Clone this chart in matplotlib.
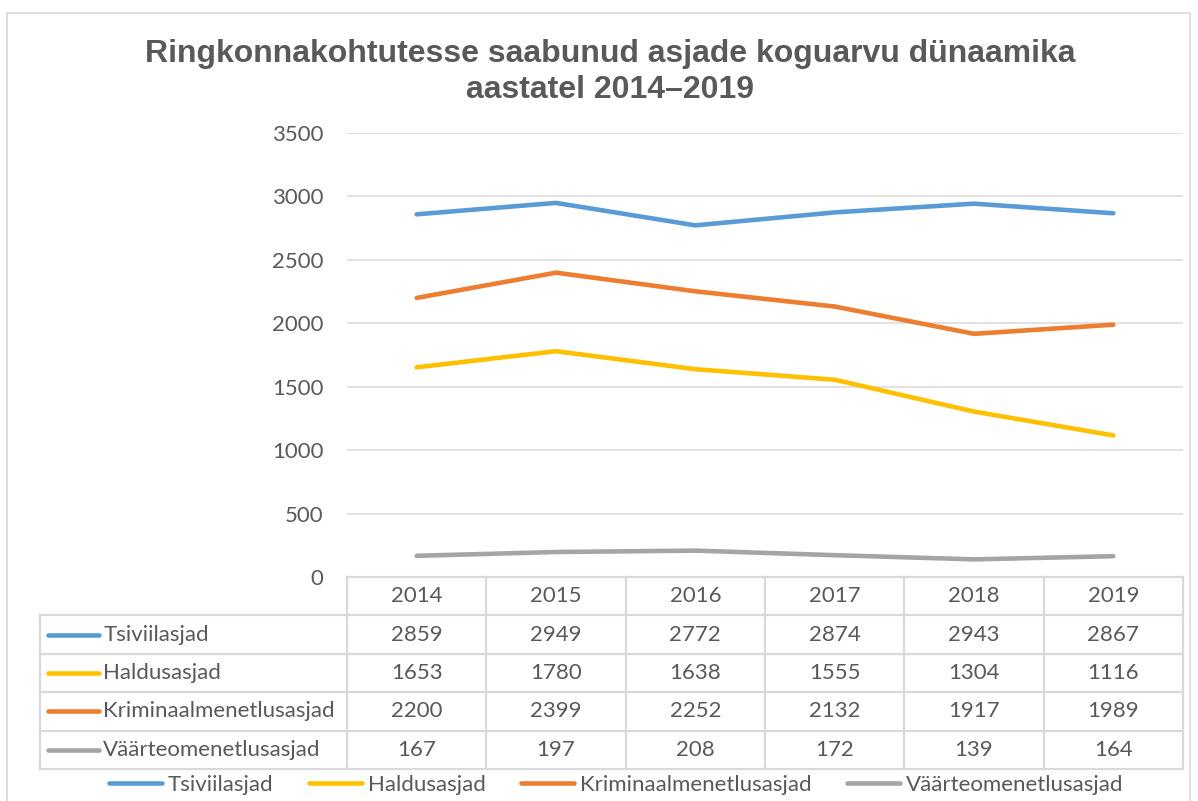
import matplotlib.pyplot as plt
from matplotlib.lines import Line2D
from matplotlib.patches import Rectangle

years = ["2014", "2015", "2016", "2017", "2018", "2019"]
series_names = ["Tsiviilasjad", "Haldusasjad", "Kriminaalmenetlusasjad", "Väärteomenetlusasjad"]
tsiviil = [2859, 2949, 2772, 2874, 2943, 2867]
haldus = [1653, 1780, 1638, 1555, 1304, 1116]
kriminaal = [2200, 2399, 2252, 2132, 1917, 1989]
vaarteo = [167, 197, 208, 172, 139, 164]
colors = ["#5B9BD5", "#FFC000", "#ED7D31", "#A5A5A5"]
title = "Ringkonnakohtutesse saabunud asjade koguarvu dünaamika\naastatel 2014\u20132019"

W, H = 1198, 801
TEXT = "#595959"
GRID = "#D9D9D9"
FS = 16
plt.rcParams["font.family"] = ["Lato", "DejaVu Sans"]


def fx(px):
    return px / W


def fy(py):
    return 1 - py / H


fig = plt.figure(figsize=(W / 100, H / 100), dpi=100)

# outer chart border (bottom runs off the picture)
fig.patches.append(Rectangle((fx(7), -0.02), fx(1190) - fx(7), fy(13) + 0.02,
                             transform=fig.transFigure, fill=False,
                             edgecolor=GRID, linewidth=1.2))

fig.text(fx(610), fy(72), title, ha="center", va="center", fontsize=23,
         fontweight="bold", color=TEXT, family=["Liberation Sans", "DejaVu Sans"],
         linespacing=1.3)

# plot area
x0, x1, ytop, ybot = 347, 1183, 133, 577
ax = fig.add_axes([fx(x0), fy(ybot), fx(x1) - fx(x0), (ybot - ytop) / H])
xs = list(range(len(years)))
all_series = [tsiviil, haldus, kriminaal, vaarteo]
for name, vals, c in zip(series_names, all_series, colors):
    ax.plot(xs, vals, color=c, linewidth=3.3, solid_capstyle="round", label=name, zorder=3)
ax.set_xlim(-0.5, len(years) - 0.5)
ax.set_ylim(0, 3500)
ax.set_yticks(range(0, 3501, 500))
ax.set_xticks([])
ax.tick_params(axis="y", length=0, pad=17, labelsize=FS, labelcolor=TEXT)
for s in ax.spines.values():
    s.set_visible(False)
ax.grid(axis="y", color=GRID, linewidth=1.1)
ax.set_axisbelow(True)

# data table under the plot
tbl_left, tbl_bot = 40, 769
col_w = (x1 - x0) / len(years)
lab_w = (x0 - tbl_left) / col_w
n_rows = len(series_names) + 1
tax = fig.add_axes([fx(tbl_left), fy(tbl_bot), fx(x1) - fx(tbl_left), (tbl_bot - ybot) / H])
tax.set_xlim(-0.5 - lab_w, len(years) - 0.5)
tax.set_ylim(n_rows, 0)
tax.axis("off")
lk = dict(color=GRID, linewidth=1.6, clip_on=False)
# horizontal rules
tax.plot([-0.5, len(years) - 0.5], [0, 0], **lk)
for r in range(1, n_rows + 1):
    tax.plot([-0.5 - lab_w, len(years) - 0.5], [r, r], **lk)
# vertical rules
for c in range(len(years) + 1):
    tax.plot([c - 0.5, c - 0.5], [0, n_rows], **lk)
tax.plot([-0.5 - lab_w, -0.5 - lab_w], [1, n_rows], **lk)

for j, yr in enumerate(years):
    tax.text(j, 0.5, yr, ha="center", va="center", fontsize=FS, color=TEXT)
for i, (name, vals, c) in enumerate(zip(series_names, all_series, colors)):
    r = i + 1.5
    tax.plot([-0.5 - lab_w + 0.06, -0.5 - lab_w + 0.42], [r, r], color=c,
             linewidth=3.3, solid_capstyle="round", clip_on=False)
    tax.text(-0.5 - lab_w + 0.455, r, name, ha="left", va="center",
             fontsize=FS, color=TEXT)
    for j, v in enumerate(vals):
        tax.text(j, r, str(v), ha="center", va="center", fontsize=FS, color=TEXT)

# bottom legend
handles = [Line2D([0], [0], color=c, linewidth=3.3, solid_capstyle="round") for c in colors]
fig.legend(handles, series_names, loc="center", bbox_to_anchor=(fx(616), fy(785)),
           ncol=4, frameon=False, fontsize=FS, labelcolor=TEXT,
           handlelength=2.4, handletextpad=0.25, columnspacing=1.6)

fig.savefig("out.png", dpi=100)
